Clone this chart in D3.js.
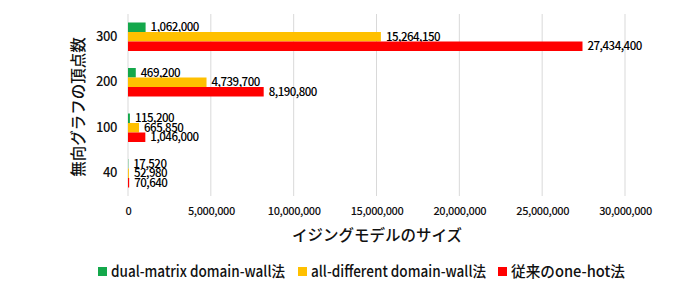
<!DOCTYPE html>
<html>
<head>
<meta charset="utf-8">
<script src="https://cdn.jsdelivr.net/npm/d3@7"></script>
<style>
  body { margin: 0; background: #fff; }
  svg { font-family: "Noto Sans CJK JP", "Noto Sans", sans-serif; }
</style>
</head>
<body>
<svg id="chart" width="698" height="296"></svg>
<script>
// chart data
const vertexCounts = ['300', '200', '100', '40'];
const seriesNames = ['dual-matrix domain-wall法', 'all-different domain-wall法', '従来のone-hot法'];
const seriesColors = ['#14a84b', '#ffc000', '#ff0000'];
const dualMatrix = [1062000, 469200, 115200, 17520];
const allDifferent = [15264150, 4739700, 665850, 52980];
const oneHot = [27434400, 8190800, 1046000, 70640];
const xTicks = [0, 5000000, 10000000, 15000000, 20000000, 25000000, 30000000];

const seriesValues = [dualMatrix, allDifferent, oneHot];

const svg = d3.select('#chart');
const fmt = d3.format(',');

const x = d3.scaleLinear().domain([0, 30000000]).range([128, 625]);
const y = d3.scaleBand().domain(vertexCounts).range([14, 196]);
const inner = d3.scaleBand().domain(d3.range(3)).range([0, 28.5]);

// gridlines
svg.append('g')
  .selectAll('line')
  .data(xTicks)
  .join('line')
  .attr('x1', d => x(d)).attr('x2', d => x(d))
  .attr('y1', 14).attr('y2', 196)
  .attr('stroke', '#d9d9d9')
  .attr('stroke-width', 1);

// x axis
const xAxis = svg.append('g')
  .attr('transform', 'translate(0,196)')
  .call(d3.axisBottom(x).tickValues(xTicks).tickFormat(fmt).tickSize(0).tickPadding(11));
xAxis.select('.domain').remove();
xAxis.selectAll('text')
  .attr('font-size', 11)
  .attr('font-family', '"Noto Sans CJK JP", sans-serif')
  .attr('font-weight', 500)
  .attr('letter-spacing', '-0.4px')
  .attr('fill', '#111');

// y axis
const yAxis = svg.append('g')
  .attr('transform', 'translate(117,0)')
  .call(d3.axisLeft(y).tickSize(0).tickPadding(0));
yAxis.select('.domain').remove();
yAxis.selectAll('text')
  .attr('font-size', 13)
  .attr('font-family', '"Noto Sans CJK JP", sans-serif')
  .attr('font-weight', 500)
  .attr('letter-spacing', '-0.4px')
  .attr('fill', '#111');

// bars
const groups = svg.append('g')
  .selectAll('g')
  .data(vertexCounts)
  .join('g')
  .attr('transform', d => `translate(0,${y(d) + (y.bandwidth() - 28.5) / 2})`);

groups.each(function(cat, ci) {
  const g = d3.select(this);
  seriesValues.forEach((vals, si) => {
    g.append('rect')
      .attr('x', x(0))
      .attr('y', inner(si))
      .attr('width', x(vals[ci]) - x(0))
      .attr('height', inner.bandwidth())
      .attr('fill', seriesColors[si]);
    g.append('text')
      .attr('x', x(vals[ci]) + 5)
      .attr('y', inner(si) + inner.bandwidth() / 2)
      .attr('dy', '0.35em')
      .attr('font-size', 11.5)
      .attr('font-weight', 500)
      .attr('letter-spacing', '-0.5px')
      .attr('fill', '#000')
      .text(fmt(vals[ci]));
  });
});

// axis titles
svg.append('text')
  .attr('transform', 'translate(84,107) rotate(-90)')
  .attr('text-anchor', 'middle')
  .attr('font-size', 15.5)
  .attr('font-weight', 500)
  .attr('fill', '#111')
  .text('無向グラフの頂点数');

svg.append('text')
  .attr('x', 377)
  .attr('y', 241)
  .attr('text-anchor', 'middle')
  .attr('font-size', 15.5)
  .attr('font-weight', 500)
  .attr('fill', '#111')
  .text('イジングモデルのサイズ');

// legend
const legendX = [98, 298, 498];
const legendW = [174, 175, 114];
const legend = svg.append('g')
  .selectAll('g')
  .data(seriesNames)
  .join('g')
  .attr('transform', (d, i) => `translate(${legendX[i]},272)`);
legend.append('rect')
  .attr('x', 0).attr('y', -5)
  .attr('width', 9).attr('height', 9)
  .attr('fill', (d, i) => seriesColors[i]);
legend.append('text')
  .attr('x', 13)
  .attr('dy', '0.35em')
  .attr('font-size', 15)
  .attr('font-weight', 500)
  .attr('textLength', (d, i) => legendW[i])
  .attr('lengthAdjust', 'spacingAndGlyphs')
  .attr('fill', '#111')
  .text(d => d);
</script>
</body>
</html>
